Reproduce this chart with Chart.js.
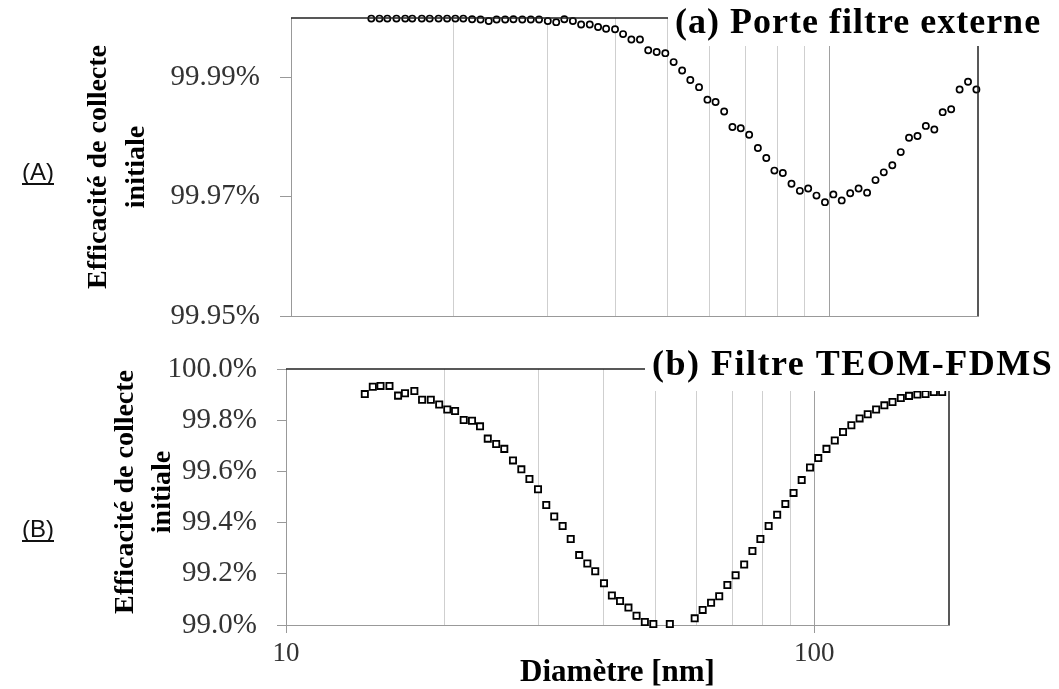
<!DOCTYPE html>
<html>
<head>
<meta charset="utf-8">
<title>Efficacité de collecte initiale</title>
<script src="https://cdn.jsdelivr.net/npm/chart.js@4.4.1/dist/chart.umd.min.js"></script>
<style>
  body { margin: 0; background: #fff; }
  #wrap { position: relative; width: 1059px; height: 689px; }
  canvas { position: absolute; left: 0; }
  #chartA { top: 0; }
  #chartB { top: 335px; }
</style>
</head>
<body>
<div id="wrap">
  <canvas id="chartA" width="1059" height="335"></canvas>
  <canvas id="chartB" width="1059" height="354"></canvas>
</div>
<script>
// diamètres SMPS (nm)
const diametres = [14.1, 14.6, 15.1, 15.7, 16.3, 16.8, 17.5, 18.1, 18.8, 19.5, 20.2, 20.9, 21.7, 22.5, 23.3, 24.1,
  25.0, 25.9, 26.9, 27.9, 28.9, 30.0, 31.1, 32.2, 33.4, 34.6, 35.9, 37.2, 38.5, 40.0, 41.4, 42.9, 44.5, 46.1,
  47.8, 49.6, 51.4, 53.3, 55.2, 57.3, 59.4, 61.5, 63.8, 66.1, 68.5, 71.0, 73.7, 76.4, 79.1, 82.0, 85.1, 88.2,
  91.4, 94.7, 98.2, 101.8, 105.5, 109.4, 113.4, 117.6, 121.9, 126.3, 131.0, 135.8, 140.7, 145.9, 151.2, 156.8,
  162.5, 168.5, 174.7, 181.1, 187.7];

// (a) Porte filtre externe, efficacité en %
const effA = [99.9999, 99.9999, 99.9999, 99.9999, 99.9999, 99.9999, 99.9999, 99.9999, 99.9999, 99.9999, 99.9999, 99.9999,
  99.9998, 99.99975, 99.9995, 99.99975, 99.99975, 99.9998, 99.99975, 99.99975, 99.99975, 99.9995, 99.9993, 99.9998,
  99.9995, 99.9989, 99.9989, 99.9985, 99.9982, 99.9981, 99.9973, 99.9964, 99.9964, 99.9946, 99.9943, 99.9941,
  99.9926, 99.9912, 99.9896, 99.9884, 99.9863, 99.9859, 99.9843, 99.9817, 99.9815, 99.9804, 99.9782, 99.9765,
  99.9744, 99.9740, 99.9722, 99.9710, 99.9714, 99.9702, 99.9691, 99.9704, 99.9694, 99.9706, 99.9714, 99.9707,
  99.9728, 99.9741, 99.9753, 99.9775, 99.9799, 99.9802, 99.9819, 99.9813, 99.9842, 99.9847, 99.9880, 99.9893, 99.9880];

// (b) Filtre TEOM-FDMS, efficacité en % (les points sous 99.0 % sont hors cadre)
const effB = [99.902, 99.931, 99.934, 99.934, 99.896, 99.905, 99.914, 99.880, 99.880, 99.861, 99.842, 99.836,
  99.801, 99.798, 99.776, 99.728, 99.707, 99.688, 99.643, 99.608, 99.570, 99.530, 99.469, 99.424, 99.387, 99.336,
  99.273, 99.240, 99.210, 99.163, 99.115, 99.094, 99.068, 99.036, 99.012, 99.004, 98.94, 99.004, 98.93, 98.95,
  99.026, 99.059, 99.087, 99.112, 99.156, 99.194, 99.236, 99.289, 99.336, 99.387, 99.431, 99.473, 99.516, 99.566,
  99.615, 99.652, 99.688, 99.721, 99.754, 99.780, 99.807, 99.823, 99.842, 99.858, 99.871, 99.887, 99.895, 99.900,
  99.902, 99.910, 99.910];

const gridX = [10, 20, 30, 40, 50, 60, 70, 80, 90, 100];
const ticksA = [99.95, 99.97, 99.99];
const ticksB = [99.0, 99.2, 99.4, 99.6, 99.8, 100.0];

Chart.defaults.font.family = '"Liberation Serif", "DejaVu Serif", serif';
Chart.defaults.color = '#333';

// cadre, titre dans sa boite blanche, titre d'axe et repere (A)/(B)
const cadre = {
  id: 'cadre',
  afterDatasetsDraw(chart, args, o) {
    const ctx = chart.ctx;
    const a = chart.chartArea;
    ctx.save();
    ctx.strokeStyle = '#222';
    ctx.lineWidth = 1.5;
    ctx.beginPath();
    ctx.moveTo(a.left, a.top);
    ctx.lineTo(a.right, a.top);
    ctx.lineTo(a.right, a.bottom);
    ctx.stroke();

    ctx.fillStyle = '#fff';
    ctx.fillRect(o.boiteX, 0, chart.width - o.boiteX, o.boiteBas);

    ctx.fillStyle = '#000';
    ctx.font = 'bold 36px "Liberation Serif"';
    ctx.letterSpacing = o.espace;
    ctx.textAlign = 'left';
    ctx.textBaseline = 'alphabetic';
    ctx.fillText(o.titre, o.titreX, o.titreY);
    ctx.letterSpacing = '0px';

    // repere du panneau
    ctx.font = '24px "Liberation Sans"';
    ctx.fillStyle = '#111';
    ctx.fillText(o.repere, 22, o.repereY);
    const w = ctx.measureText(o.repere).width;
    ctx.fillRect(22, o.repereY + 3, w, 2);

    if (o.diametre) {
      ctx.font = 'bold 31px "Liberation Serif"';
      ctx.fillStyle = '#000';
      ctx.textAlign = 'center';
      ctx.fillText('Diamètre [nm]', (a.left + a.right) / 2, o.diametreY);
    }

    // titre de l'axe y, sur deux lignes
    ctx.font = 'bold 28px "Liberation Serif"';
    ctx.fillStyle = '#000';
    ctx.textAlign = 'center';
    ctx.textBaseline = 'middle';
    ctx.translate(o.axeX, o.axeY);
    ctx.rotate(-Math.PI / 2);
    ctx.fillText('Efficacité de collecte', 0, 0);
    ctx.fillText('initiale', 0, o.interligne);
    ctx.restore();
  }
};

function gridColor(c) {
  return c.tick && c.tick.value === 100 ? '#a0a0a0' : '#cfcfcf';
}

// la largeur de l'axe y fixe le bord gauche du cadre, sans marge due aux étiquettes
function fixY(width) {
  return s => {
    s.width = width;
    s.paddingTop = 0;
    s.paddingBottom = 0;
  };
}
function fixX(height) {
  return s => {
    s.height = height;
    s.paddingLeft = 0;
    s.paddingRight = 0;
  };
}

const chartA = new Chart(document.getElementById('chartA'), {
  type: 'scatter',
  data: {
    datasets: [{
      data: diametres.map((d, i) => ({ x: d, y: effA[i] })),
      pointStyle: 'circle',
      pointRadius: 3.1,
      borderWidth: 1.7,
      borderColor: '#000',
      backgroundColor: '#fff',
      clip: false
    }]
  },
  options: {
    responsive: false,
    animation: false,
    events: [],
    layout: { padding: { left: 0, right: 81, top: 18, bottom: 0 } },
    plugins: {
      legend: { display: false },
      tooltip: { enabled: false },
      cadre: {
        titre: '(a) Porte filtre externe', titreX: 675, titreY: 33, espace: '1px',
        boiteX: 668, boiteBas: 46,
        repere: '(A)', repereY: 180,
        axeX: 99, axeY: 167, interligne: 38
      }
    },
    scales: {
      x: {
        type: 'logarithmic',
        min: 10,
        max: 189,
        afterBuildTicks: s => { s.ticks = gridX.map(v => ({ value: v })); },
        afterFit: fixX(19),
        ticks: { display: false },
        grid: { color: gridColor, drawTicks: false },
        border: { color: '#999' }
      },
      y: {
        min: 99.95,
        max: 100,
        afterBuildTicks: s => { s.ticks = ticksA.map(v => ({ value: v })); },
        afterFit: fixY(291),
        ticks: {
          callback: v => v.toFixed(2) + '%',
          font: { size: 29 },
          color: '#333',
          padding: 20
        },
        grid: { drawOnChartArea: false, tickLength: 11, color: '#999' },
        border: { color: '#999' }
      }
    }
  },
  plugins: [cadre]
});

const chartB = new Chart(document.getElementById('chartB'), {
  type: 'scatter',
  data: {
    datasets: [{
      data: diametres.slice(0, effB.length).map((d, i) => ({ x: d, y: effB[i] })),
      pointStyle: 'rect',
      pointRadius: 4.4,
      borderWidth: 1.8,
      borderColor: '#000',
      backgroundColor: '#fff',
      clip: { left: 10, top: 10, right: 10, bottom: 3 }
    }]
  },
  options: {
    responsive: false,
    animation: false,
    events: [],
    layout: { padding: { left: 0, right: 110, top: 34, bottom: 0 } },
    plugins: {
      legend: { display: false },
      tooltip: { enabled: false },
      cadre: {
        titre: '(b) Filtre TEOM-FDMS', titreX: 652, titreY: 40, espace: '1.5px',
        boiteX: 645, boiteBas: 56,
        repere: '(B)', repereY: 202,
        axeX: 126, axeY: 157, interligne: 37,
        diametre: true, diametreY: 346
      }
    },
    scales: {
      x: {
        type: 'logarithmic',
        min: 10,
        max: 180,
        afterBuildTicks: s => { s.ticks = gridX.map(v => ({ value: v })); },
        afterFit: fixX(64),
        ticks: {
          callback: v => (v === 10 || v === 100) ? String(v) : '',
          font: { size: 27 },
          color: '#333',
          padding: 5,
          maxRotation: 0,
          autoSkip: false
        },
        grid: {
          color: gridColor,
          tickLength: 8,
          tickColor: c => (c.tick && (c.tick.value === 10 || c.tick.value === 100)) ? '#999' : 'rgba(0,0,0,0)'
        },
        border: { color: '#999' }
      },
      y: {
        min: 99,
        max: 100,
        afterBuildTicks: s => { s.ticks = ticksB.map(v => ({ value: v })); },
        afterFit: fixY(286),
        ticks: {
          callback: v => v.toFixed(1) + '%',
          font: { size: 29 },
          color: '#333',
          padding: 20
        },
        grid: { drawOnChartArea: false, tickLength: 9, color: '#999' },
        border: { color: '#999' }
      }
    }
  },
  plugins: [cadre]
});
</script>
</body>
</html>
